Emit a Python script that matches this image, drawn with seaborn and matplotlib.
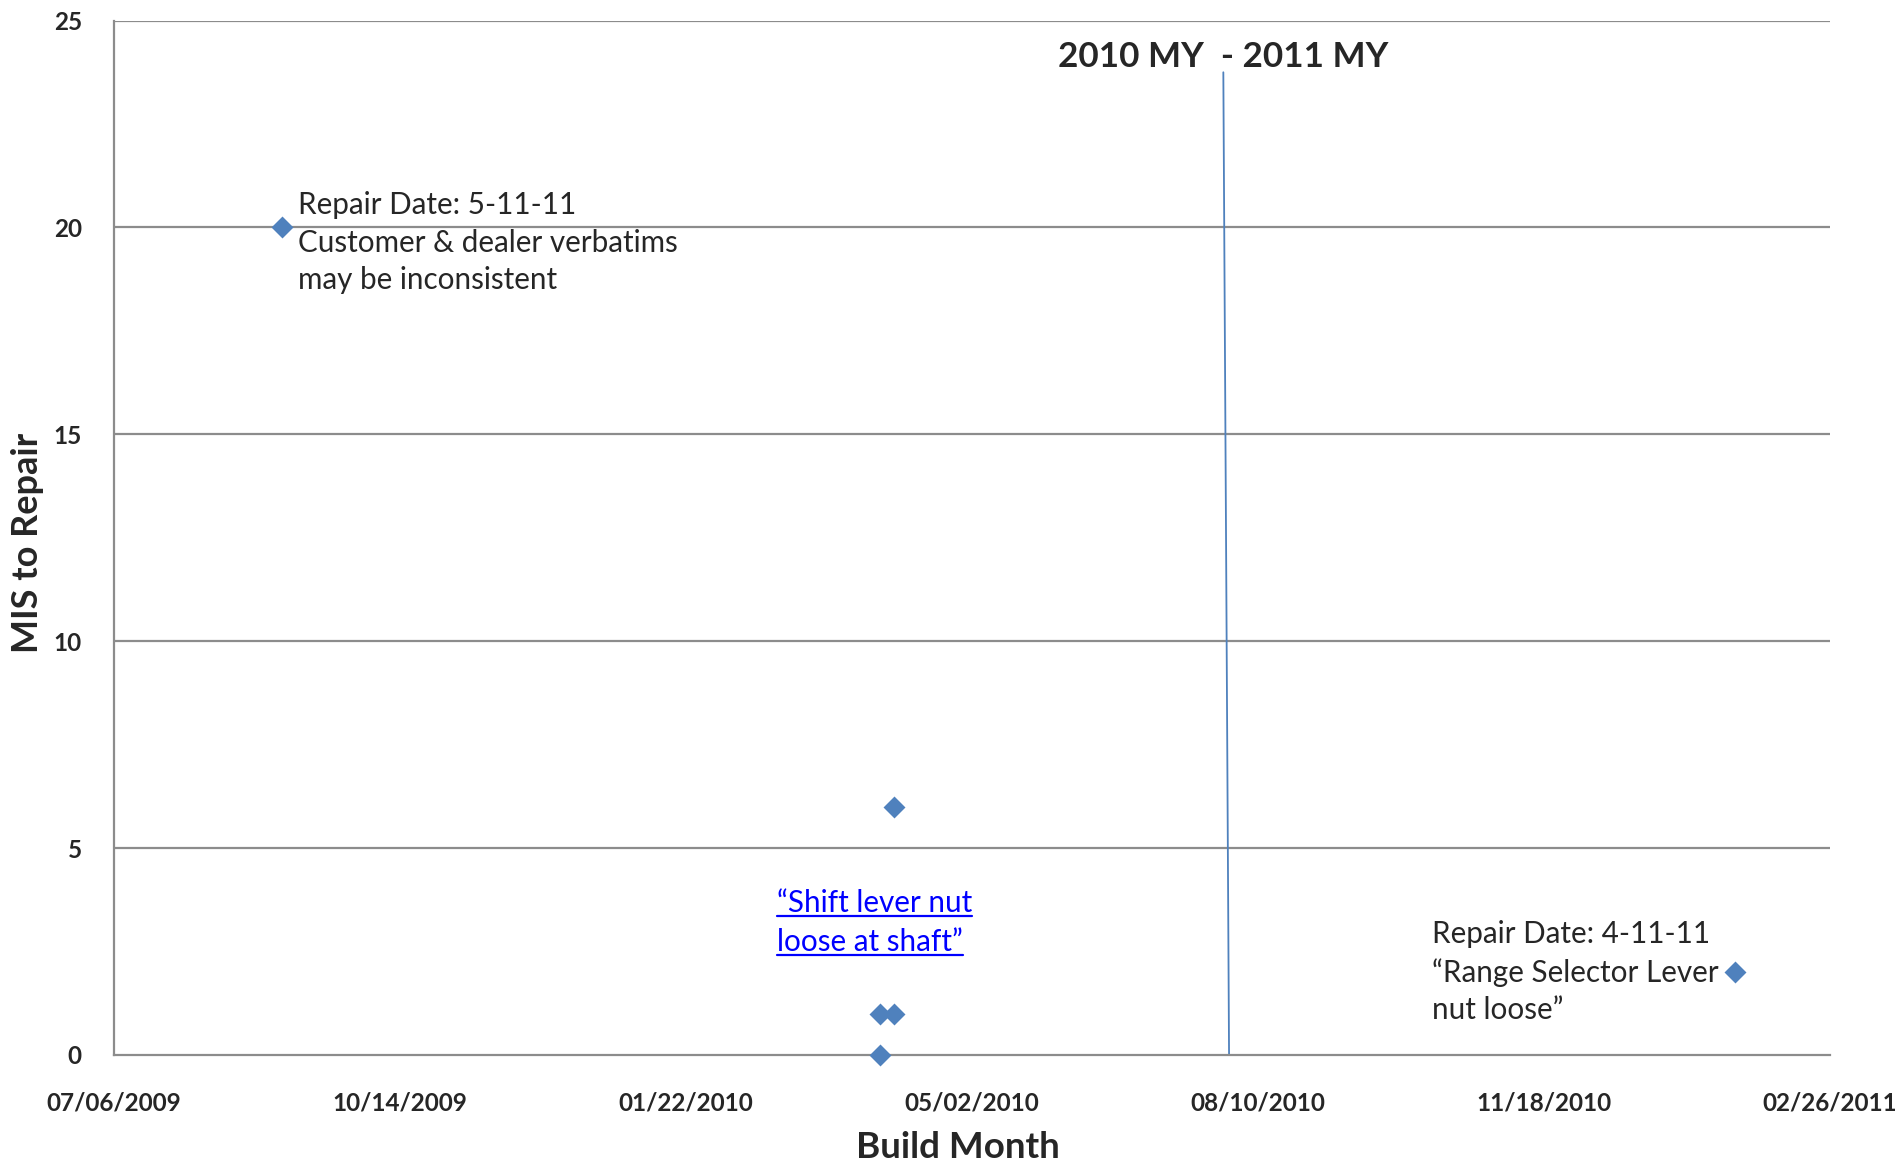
import pandas as pd
import matplotlib
matplotlib.use("Agg")
import matplotlib.pyplot as plt
import matplotlib.dates as mdates
from matplotlib.lines import Line2D
import seaborn as sns

# Data
build_dates = ["2009-09-03", "2010-04-05", "2010-03-31", "2010-04-05", "2010-03-31", "2011-01-24"]
mis_to_repair = [20, 6, 1, 1, 0, 2]

# model year split line (drawn slightly slanted in the original)
split_dates = ["2010-07-29", "2010-07-31"]
split_values = [23.75, 0]

x_tick_labels = ["07/06/2009", "10/14/2009", "01/22/2010", "05/02/2010",
                 "08/10/2010", "11/18/2010", "02/26/2011"]
y_ticks = [0, 5, 10, 15, 20, 25]

note_first = "Repair Date: 5-11-11\nCustomer & dealer verbatims\nmay be inconsistent"
note_shift = ["\u201cShift lever nut", "loose at shaft\u201d"]
note_range = "Repair Date: 4-11-11\n\u201cRange Selector Lever\nnut loose\u201d"
split_title = "2010 MY  - 2011 MY"

df = pd.DataFrame({"build": pd.to_datetime(build_dates), "mis": mis_to_repair})
ticks = pd.to_datetime(x_tick_labels, format="%m/%d/%Y")

sns.set_style("white")
plt.rcParams["font.family"] = ["Lato", "DejaVu Sans"]

fig = plt.figure(figsize=(18.95, 11.62), dpi=100)
ax = fig.add_axes([0.060, 0.0921, 0.9055, 0.8902])

grid_col = "#8c8c8c"
blue = "#4F81BD"

for v in y_ticks[1:]:
    ax.axhline(v, color=grid_col, lw=1.6, zorder=1)

sns.scatterplot(data=df, x="build", y="mis", marker="D", s=125, color=blue,
                linewidth=0, ax=ax, zorder=3, legend=False, clip_on=False)

ax.plot(pd.to_datetime(split_dates), split_values, color=blue, lw=1.3, zorder=2)

ax.set_xlim(ticks[0], ticks[-1])
ax.set_ylim(0, 25)
ax.set_xticks(ticks)
ax.xaxis.set_major_formatter(mdates.DateFormatter("%m/%d/%Y"))
ax.set_yticks(y_ticks)

for side in ["top", "right"]:
    ax.spines[side].set_visible(False)
for side in ["left", "bottom"]:
    ax.spines[side].set_color(grid_col)
    ax.spines[side].set_linewidth(1.6)

ax.tick_params(axis="y", direction="out", length=7, width=1.4, color=grid_col,
               pad=16, labelsize=17.5)
ax.tick_params(axis="x", direction="out", length=6, width=1.4, color=grid_col,
               pad=20, labelsize=17.5)
for lab in ax.get_xticklabels() + ax.get_yticklabels():
    lab.set_fontweight("bold")

ax.set_xlabel("Build Month", fontsize=26.5, fontweight="bold", va="center")
ax.xaxis.set_label_coords(0.492, -0.0895)
ax.set_ylabel("MIS to Repair", fontsize=26, fontweight="bold", va="center")
ax.yaxis.set_label_coords(-0.0505, 0.495)

# annotations
note_fs = 21.3
ax.annotate(note_first, xy=(df["build"][0], 20), xytext=(11, -11),
            textcoords="offset points", ha="left", va="center",
            fontsize=note_fs, linespacing=1.42)
ax.annotate(note_range, xy=(df["build"][5], 2), xytext=(-12, 0),
            textcoords="offset points", ha="right", va="center",
            multialignment="left", fontsize=note_fs, linespacing=1.42)
split_mid = pd.to_datetime(split_dates[0])
ax.text(split_mid, 24.12, split_title, ha="center", va="center",
        fontsize=25.2, fontweight="bold")

shift_x = pd.Timestamp("2010-02-23")
shift_texts = []
for txt, yv in zip(note_shift, [3.45, 2.52]):
    t = ax.text(shift_x, yv, txt, ha="left", va="baseline", fontsize=note_fs,
                color="#0000FF")
    shift_texts.append((t, yv))

# underline the blue note
fig.canvas.draw()
inv = fig.transFigure.inverted()
for t, yv in shift_texts:
    bb = t.get_window_extent()
    base = ax.transData.transform((mdates.date2num(shift_x), yv))[1] - 4
    p0 = inv.transform((bb.x0, base))
    p1 = inv.transform((bb.x1, base))
    fig.add_artist(Line2D([p0[0], p1[0]], [p0[1], p1[1]], color="#0000FF",
                          lw=1.6, transform=fig.transFigure))

fig.savefig("out.png", dpi=100)
